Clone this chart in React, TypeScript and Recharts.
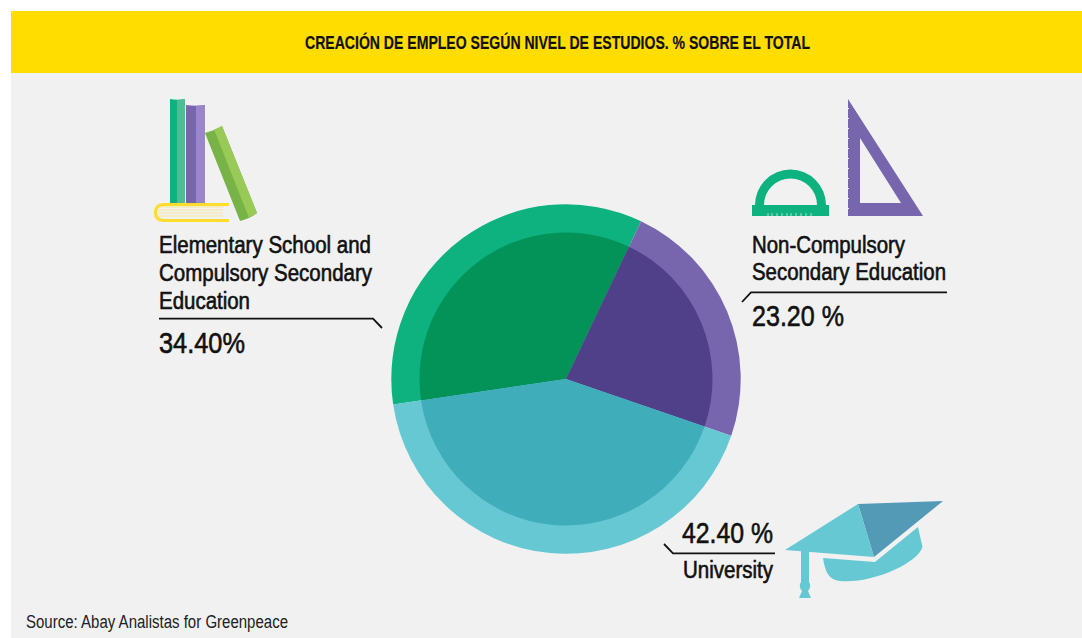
import React from "react";
import { PieChart, Pie, Cell } from "recharts";

const categories = [
  "Elementary School and Compulsory Secondary Education",
  "Non-Compulsory Secondary Education",
  "University",
];
const shares = [34.4, 23.2, 42.4];
const ringColors = ["#0db27e", "#7766ae", "#66c8d2"];
const coreColors = ["#039359", "#50408a", "#40adbb"];

const title = "CREACIÓN DE EMPLEO SEGÚN NIVEL DE ESTUDIOS. % SOBRE EL TOTAL";
const source = "Source: Abay Analistas for Greenpeace";
const elementaryLines = ["Elementary School and", "Compulsory Secondary", "Education"];
const elementaryWidths = [212, 213, 91];
const secondaryLines = ["Non-Compulsory", "Secondary Education"];
const secondaryWidths = [153, 194];
const elementaryValue = "34.40%";
const secondaryValue = "23.20 %";
const universityValue = "42.40 %";
const universityLabel = "University";

const FONT = "'Liberation Sans', Arial, sans-serif";
const INK = "#111";
const rows = categories.map((name, i) => ({ name, value: shares[i] }));

// Text squeezed to a set width, since no condensed face is installed.
function Narrow({ x, y, size, width, children, heft = 0.6, bold = false, color = INK }: any) {
  return (
    <text
      x={x}
      y={y}
      fontFamily={FONT}
      fontSize={size}
      fontWeight={bold ? 700 : 400}
      fill={color}
      stroke={color}
      strokeWidth={heft}
      textLength={width}
      lengthAdjust="spacingAndGlyphs"
    >
      {children}
    </text>
  );
}

function Books() {
  return (
    <g>
      <path d="M170 99 Q177 100.5 185 99 V203 H170 Z" fill="#0db27e" />
      <path d="M177 100 Q181 100 185 99 V203 H177 Z" fill="#4fbd94" />
      <path d="M186 105 Q196 106.5 205 105 V203 H186 Z" fill="#7766ae" />
      <path d="M196 105.8 Q201 105.6 205 105 V203 H196 Z" fill="#9a86c8" />
      <path d="M205 133 Q214 131 222 126 L257 213 Q249 219 240 221 Z" fill="#77b347" />
      <path d="M214 129.5 Q218 128.5 222 126 L257 213 Q253 216 249 218 Z" fill="#99c957" />
      <path d="M158 207 H223 M158 210 H223 M158 213 H223 M158 216 H223" stroke="#f8e79a" strokeWidth={1} />
      <path d="M229 204.5 H164 Q155.5 204.5 155.5 212.5 Q155.5 220.5 164 220.5 H229" fill="none" stroke="#ffdc2e" strokeWidth={3.2} />
    </g>
  );
}

function Tools() {
  return (
    <g>
      <path d="M752 216 V205 H755 A35.5 35.5 0 0 1 826 205 H829 V216 Z M764 205 H817 A26.5 26.5 0 0 0 764 205 Z" fill="#0db27e" fillRule="evenodd" />
      <path d="M768 213 V216 M772 213 V216 M777 213 V216 M782 213 V216 M787 213 V216 M791 213 V216 M796 213 V216 M801 213 V216 M806 213 V216 M811 213 V216" stroke="#f1f1f1" strokeWidth={0.7} />
      <path d="M848 99 L923 216 H848 Z M860 138 V203 H901 Z" fill="#7766ae" fillRule="evenodd" />
      <path d="M848.5 108 V216" stroke="#f1f1f1" strokeWidth={1} strokeDasharray="1 9" />
    </g>
  );
}

function Cap() {
  return (
    <g>
      <path d="M858 504 L943 501 L874 557 Z" fill="#539ab7" />
      <path d="M858 504 L785 550 L874 557 Z" fill="#66c8d2" />
      <path d="M918 527 L922.5 547 C918 563 872 584 840 581 C829 580 825 572 823 558 L875 562 Z" fill="#66c8d2" />
      <path d="M801 551 H809 V582 Q812 586 808 591 L811 598 H799 L802 591 Q798 586 801 582 Z" fill="#66c8d2" />
    </g>
  );
}

export default function App() {
  return (
    <div style={{ position: "absolute", left: 0, top: 0, width: 1082, height: 638, background: "#fff" }}>
      <PieChart width={1082} height={638} margin={{ top: 0, right: 0, bottom: 0, left: 0 }}>
        <rect x={11} y={11} width={1071} height={627} fill="#f1f1f1" />
        <rect x={11} y={11} width={1071} height={62} fill="#ffdd00" />
        <Narrow x={305} y={49} size={18.5} width={505} bold heft={0.2}>{title}</Narrow>

        <Pie
          data={rows}
          dataKey="value"
          nameKey="name"
          cx={566}
          cy={379}
          innerRadius={0}
          outerRadius={174.7}
          startAngle={188.4}
          endAngle={-171.6}
          stroke="none"
          isAnimationActive={false}
        >
          {rows.map((row, i) => <Cell key={row.name} fill={ringColors[i]} />)}
        </Pie>
        <Pie
          data={rows}
          dataKey="value"
          nameKey="name"
          cx={566}
          cy={379}
          innerRadius={0}
          outerRadius={146.5}
          startAngle={188.4}
          endAngle={-171.6}
          stroke="none"
          isAnimationActive={false}
        >
          {rows.map((row, i) => <Cell key={row.name} fill={coreColors[i]} />)}
        </Pie>

        <Books />
        <Tools />
        <Cap />

        {elementaryLines.map((line, i) => (
          <Narrow key={line} x={159} y={252.5 + i * 28.3} size={23} width={elementaryWidths[i]}>{line}</Narrow>
        ))}
        <Narrow x={159} y={353} size={29} width={86}>{elementaryValue}</Narrow>
        {secondaryLines.map((line, i) => (
          <Narrow key={line} x={752} y={252.5 + i * 27.8} size={23} width={secondaryWidths[i]}>{line}</Narrow>
        ))}
        <Narrow x={752} y={326} size={29} width={92}>{secondaryValue}</Narrow>
        <Narrow x={682} y={543} size={29} width={91}>{universityValue}</Narrow>
        <Narrow x={683} y={577.5} size={23} width={90}>{universityLabel}</Narrow>

        <g fill="none" stroke={INK} strokeWidth={1.8}>
          <path d="M159 318.7 H373 L382 328" />
          <path d="M947 292.3 H751 L742 302" />
          <path d="M775 553.3 H673 L664 544" />
        </g>
        <Narrow x={26} y={627.7} size={18} width={262} heft={0} color="#222">{source}</Narrow>
      </PieChart>
    </div>
  );
}
